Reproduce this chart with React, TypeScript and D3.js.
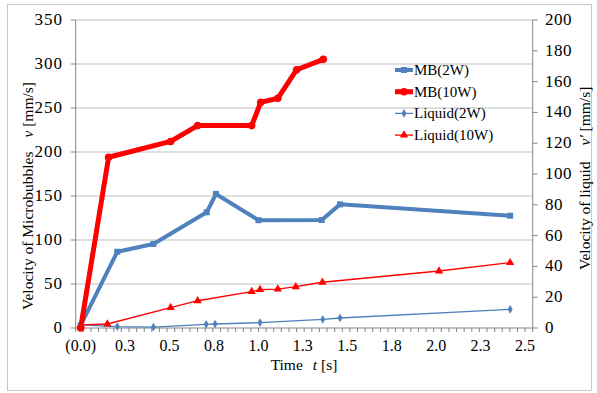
import React from "react";
import * as d3 from "d3";

// time [s]
const mb2T = [0, 0.206, 0.409, 0.709, 0.761, 1.0, 1.356, 1.459, 2.416];
const mb2V = [3, 86.7, 95.5, 131.5, 152.3, 122.5, 122.7, 140.5, 127.6];

const mb10T = [0, 0.157, 0.506, 0.658, 0.962, 1.013, 1.109, 1.215, 1.365];
const mb10V = [0, 194, 212, 230, 230, 256.5, 261, 293.5, 305.3];

const liq2T = [0, 0.206, 0.409, 0.706, 0.756, 1.009, 1.362, 1.459, 2.416];
const liq2V = [2.0, 0.9, 0.6, 2.4, 2.6, 3.5, 5.6, 6.5, 12.1];

const liq10T = [0, 0.15, 0.506, 0.658, 0.962, 1.009, 1.109, 1.21, 1.36, 2.016, 2.416];
const liq10V = [2.0, 2.6, 13.2, 17.7, 23.6, 24.9, 25.3, 26.8, 29.7, 37.0, 42.4];

const xTickLabels = ["(0.0)", "0.3", "0.5", "0.8", "1.0", "1.3", "1.5", "1.8", "2.0", "2.3", "2.5"];
const leftTicks = [0, 50, 100, 150, 200, 250, 300, 350];
const rightTicks = [0, 20, 40, 60, 80, 100, 120, 140, 160, 180, 200];

const BLUE = "#4F81BD";
const RED = "#FF0000";
const FONT = "Liberation Serif, DejaVu Serif, serif";
const txt = { fontFamily: FONT, fill: "#000" };

const zip = (t: number[], v: number[]) => t.map((d, i) => [d, v[i]] as [number, number]);

export default function App() {
  const x = d3.scaleLinear().domain([-0.028, 2.543]).range([75.7, 532.7]);
  const yL = d3.scaleLinear().domain([0, 350]).range([328, 20]);
  const yR = d3.scaleLinear().domain([0, 200]).range([328, 20]);
  const [x0, x1] = x.range();

  const lineL = d3.line<[number, number]>().x((d) => x(d[0])).y((d) => yL(d[1]));
  const lineR = d3.line<[number, number]>().x((d) => x(d[0])).y((d) => yR(d[1]));

  const mb2 = zip(mb2T, mb2V);
  const mb10 = zip(mb10T, mb10V);
  const liq2 = zip(liq2T, liq2V);
  const liq10 = zip(liq10T, liq10V);

  const minorTicks = d3.range(61).map((i) => x0 + (i * (x1 - x0)) / 60);
  const tri = d3.symbol(d3.symbolTriangle, 30)()!;
  const dia = d3.symbol(d3.symbolDiamond, 22)()!;

  const legend = [
    { name: "MB(2W)", color: BLUE, w: 4, mk: "sq" },
    { name: "MB(10W)", color: RED, w: 5, mk: "ci" },
    { name: "Liquid(2W)", color: BLUE, w: 1.3, mk: "di" },
    { name: "Liquid(10W)", color: RED, w: 1.3, mk: "tr" },
  ];

  const marker = (mk: string, cx: number, cy: number, color: string, key: any) => {
    if (mk === "sq") return <rect key={key} x={cx - 3} y={cy - 3} width={6} height={6} fill={color} />;
    if (mk === "ci") return <circle key={key} cx={cx} cy={cy} r={3.8} fill={color} />;
    if (mk === "di") return <path key={key} d={dia} transform={`translate(${cx},${cy})`} fill={color} />;
    return <path key={key} d={tri} transform={`translate(${cx},${cy})`} fill={color} />;
  };

  return (
    <svg width={597} height={393} style={{ position: "absolute", left: 0, top: 0 }}>
      <rect x={0} y={0} width={597} height={393} fill="#fff" />
      <rect x={7.5} y={4.5} width={584} height={386} fill="none" stroke="#C8C8C8" />

      {/* gridlines */}
      {leftTicks.slice(1).map((v) => (
        <line key={v} x1={x0} x2={x1} y1={yL(v)} y2={yL(v)} stroke="#BEBEBE" />
      ))}

      {/* axes */}
      <line x1={x0} x2={x0} y1={20} y2={328} stroke="#868686" />
      <line x1={x1} x2={x1} y1={20} y2={328} stroke="#868686" />
      <line x1={x0} x2={x1} y1={328} y2={328} stroke="#868686" />
      {minorTicks.map((px, i) => (
        <line key={i} x1={px} x2={px} y1={328} y2={332} stroke="#868686" />
      ))}
      {leftTicks.map((v) => (
        <g key={v}>
          <line x1={x0 - 5} x2={x0} y1={yL(v)} y2={yL(v)} stroke="#868686" />
          <text x={63} y={yL(v) + 5} textAnchor="end" fontSize={17} letterSpacing={1} style={txt}>
            {v}
          </text>
        </g>
      ))}
      {rightTicks.map((v) => (
        <g key={v}>
          <line x1={x1} x2={x1 + 5} y1={yR(v)} y2={yR(v)} stroke="#868686" />
          <text x={545} y={yR(v) + 5} textAnchor="start" fontSize={17} letterSpacing={0.5} style={txt}>
            {v}
          </text>
        </g>
      ))}
      {xTickLabels.map((s, i) => (
        <text key={s} x={x(i * 0.25)} y={351} textAnchor="middle" fontSize={16} style={txt}>
          {s}
        </text>
      ))}

      {/* titles */}
      <text x={304} y={370} textAnchor="middle" fontSize={15.5} style={txt}>
        Time<tspan fontStyle="italic" dx={10}>t</tspan> [s]
      </text>
      <text transform="translate(33,310) rotate(-90)" fontSize={15.5} style={txt}>
        Velocity of Microbubbles<tspan fontStyle="italic" dx={14}>v</tspan> [mm/s]
      </text>
      <text transform="translate(590,270) rotate(-90)" fontSize={15.5} style={txt}>
        Velocity of liquid<tspan fontStyle="italic" dx={16}>v'</tspan> [mm/s]
      </text>

      {/* series */}
      <path d={lineR(liq2)!} fill="none" stroke={BLUE} strokeWidth={1.3} />
      {liq2.map((d, i) => marker("di", x(d[0]), yR(d[1]), BLUE, "l2" + i))}
      <path d={lineR(liq10)!} fill="none" stroke={RED} strokeWidth={1.3} />
      {liq10.map((d, i) => marker("tr", x(d[0]), yR(d[1]), RED, "l10" + i))}
      <path d={lineL(mb2)!} fill="none" stroke={BLUE} strokeWidth={4} strokeLinejoin="round" />
      {mb2.map((d, i) => marker("sq", x(d[0]), yL(d[1]), BLUE, "m2" + i))}
      <path d={lineL(mb10)!} fill="none" stroke={RED} strokeWidth={5} strokeLinejoin="round" />
      {mb10.map((d, i) => marker("ci", x(d[0]), yL(d[1]), RED, "m10" + i))}

      {/* legend */}
      {legend.map((l, i) => {
        const cy = 70 + i * 21.7;
        return (
          <g key={l.name}>
            <line x1={395} x2={413} y1={cy} y2={cy} stroke={l.color} strokeWidth={l.w} />
            {marker(l.mk, 404, cy, l.color, "lg" + i)}
            <text x={414} y={cy + 5} fontSize={15} style={txt}>
              {l.name}
            </text>
          </g>
        );
      })}
    </svg>
  );
}
